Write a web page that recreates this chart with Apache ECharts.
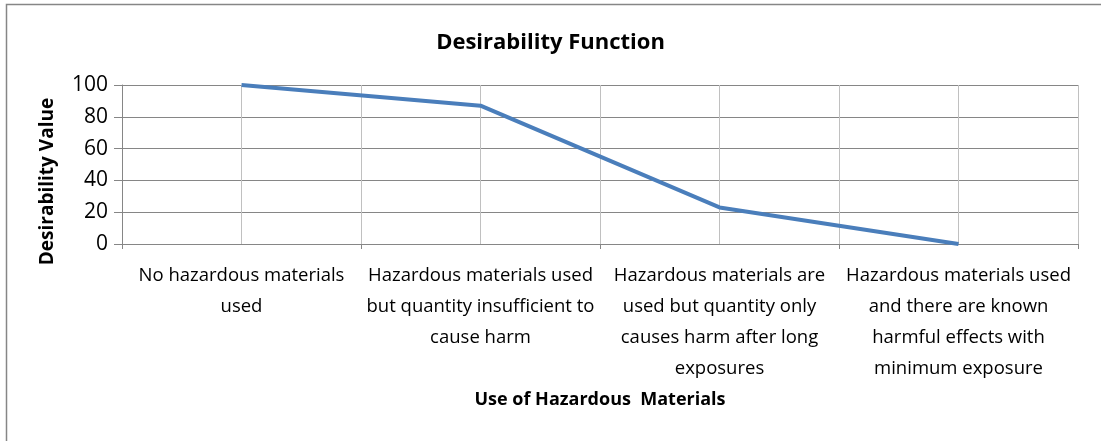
<!DOCTYPE html>
<html>
<head>
<meta charset="utf-8">
<script src="https://cdn.jsdelivr.net/npm/echarts@6/dist/echarts.min.js"></script>
<style>
  html, body { margin: 0; padding: 0; background: #fff; }
  #chart { width: 1101px; height: 441px; }
</style>
</head>
<body>
<div id="chart"></div>
<script>
// Categories (line breaks placed as in the printed axis labels)
const categories = [
  'No hazardous materials\nused',
  'Hazardous materials used\nbut quantity insufficient to\ncause harm',
  'Hazardous materials are\nused but quantity only\ncauses harm after long\nexposures',
  'Hazardous materials used\nand there are known\nharmful effects with\nminimum exposure'
];
const desirability = [100, 87, 23, 0];
const yTicks = [0, 20, 40, 60, 80, 100];

const FONT = '"Open Sans", Lato, sans-serif';
const GRID_DARK = '#868686';
const GRID_LIGHT = '#c0c0c0';

// Half-category slots so vertical gridlines fall at category edges and centres
const halfSlots = categories.flatMap((c, i) => [i + 'a', i + 'b']);

const chart = echarts.init(document.getElementById('chart'), null, { renderer: 'canvas' });
chart.setOption({
  backgroundColor: '#fff',
  animation: false,
  title: {
    text: 'Desirability Function',
    left: 'center',
    top: 27,
    textStyle: { fontFamily: FONT, fontSize: 22, fontWeight: 'bold', color: '#000' }
  },
  grid: { left: 122, right: 23, top: 85, height: 159, containLabel: false },
  xAxis: [
    {
      type: 'category',
      data: categories,
      boundaryGap: true,
      name: 'Use of Hazardous  Materials',
      nameLocation: 'middle',
      nameGap: 147,
      nameTextStyle: { fontFamily: FONT, fontSize: 18, fontWeight: 'bold', color: '#000', verticalAlign: 'top' },
      axisLine: { show: true, lineStyle: { color: GRID_DARK, width: 1 } },
      axisTick: { show: true, length: 5, lineStyle: { color: GRID_DARK } },
      axisLabel: {
        interval: 0,
        margin: 16,
        fontFamily: FONT, fontSize: 18.5, color: '#000',
        lineHeight: 31, align: 'center'
      },
      splitLine: { show: true, lineStyle: { color: GRID_LIGHT, width: 1 } }
    },
    {
      type: 'category',
      data: halfSlots,
      boundaryGap: true,
      position: 'bottom',
      axisLine: { show: false },
      axisTick: { show: false },
      axisLabel: { show: false },
      splitLine: { show: true, lineStyle: { color: GRID_LIGHT, width: 1 } }
    }
  ],
  yAxis: {
    type: 'value',
    min: yTicks[0],
    max: yTicks[yTicks.length - 1],
    interval: yTicks[1] - yTicks[0],
    name: 'Desirability Value',
    nameLocation: 'middle',
    nameGap: 74,
    nameRotate: 90,
    nameTextStyle: {
      fontFamily: FONT, fontSize: 19, fontWeight: 'bold', color: '#000',
      verticalAlign: 'middle', padding: [0, 34, 0, 0]
    },
    axisLine: { show: true, lineStyle: { color: GRID_DARK, width: 1 } },
    axisTick: { show: true, length: 8, lineStyle: { color: GRID_DARK } },
    axisLabel: { margin: 14, fontFamily: FONT, fontSize: 21, color: '#000' },
    splitLine: { show: true, lineStyle: { color: GRID_DARK, width: 1 } }
  },
  series: [{
    type: 'line',
    xAxisIndex: 0,
    data: desirability,
    showSymbol: false,
    symbol: 'none',
    lineStyle: { color: '#4a7ebb', width: 4, join: 'round' },
    z: 5
  }],
  graphic: [{
    type: 'rect',
    shape: { x: 6.5, y: 4.5, width: 1200, height: 600 },
    style: { fill: 'none', stroke: GRID_DARK, lineWidth: 1.5 },
    silent: true
  }]
});
</script>
</body>
</html>
